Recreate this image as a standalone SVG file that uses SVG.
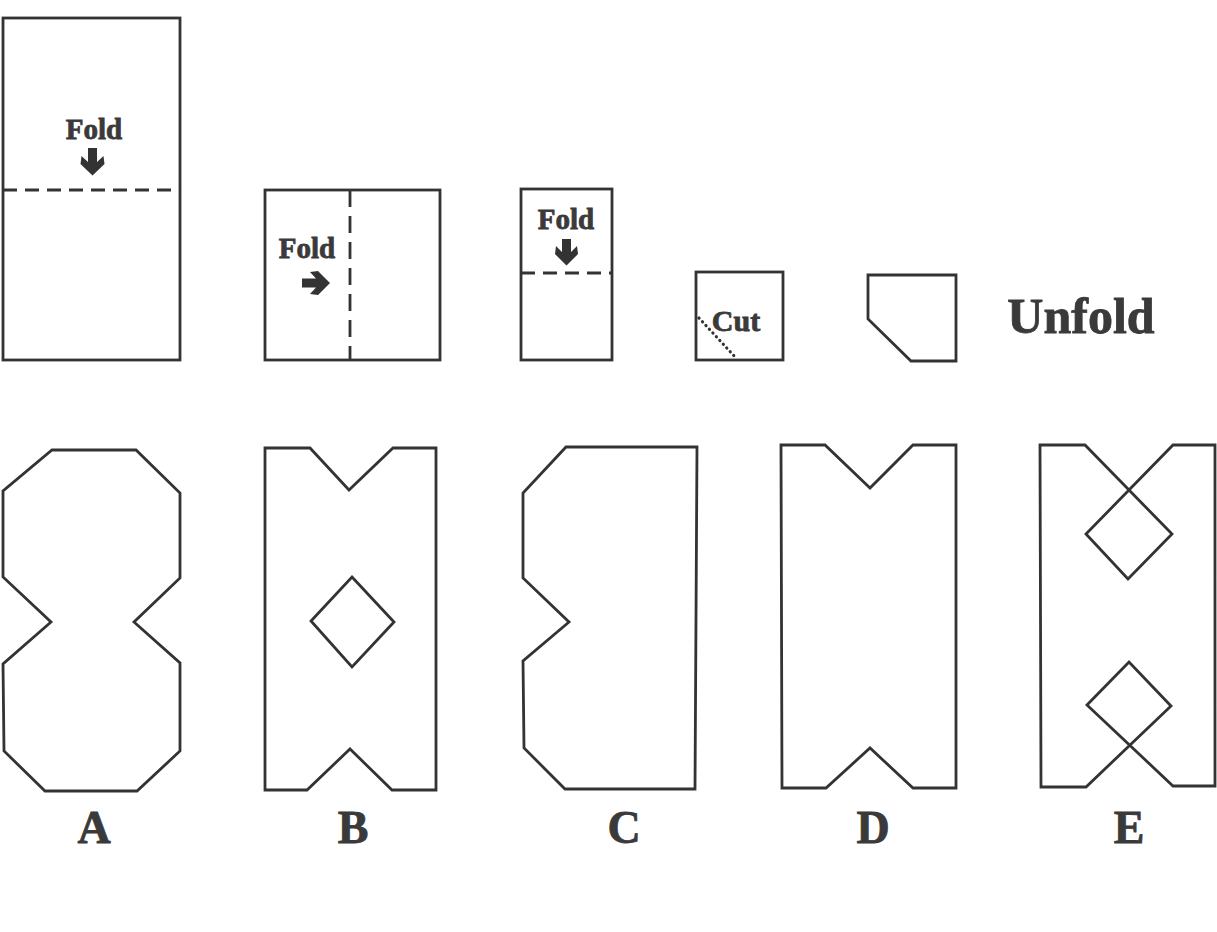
<svg xmlns="http://www.w3.org/2000/svg" width="1217" height="932" viewBox="0 0 1217 932">
<style>
.sh{fill:none;stroke:#333;stroke-width:2.8;stroke-linejoin:miter}
.dash{fill:none;stroke:#333;stroke-width:2.8;stroke-dasharray:14 8}
.dot{fill:none;stroke:#333;stroke-width:3.2;stroke-dasharray:0.1 5;stroke-linecap:round}
.t{font-family:"Liberation Serif","DejaVu Serif",serif;font-weight:bold;fill:#3a3a3a;stroke:#3a3a3a;stroke-width:0.8}
.arr{fill:#333}
</style>
<rect width="1217" height="932" fill="#fff"/>
<g id="step1">
<rect class="sh" x="3" y="18" width="177" height="342"/>
<line class="dash" x1="3" y1="190" x2="180" y2="190"/>
<text class="t" x="94" y="139" font-size="29" text-anchor="middle">Fold</text>
<path class="arr" d="M88,148 H97 V162 L103.5,156 L104.5,164 L92.5,175.5 L80.5,164 L81.5,156 L88,162 Z"/>
</g>
<g id="step2">
<rect class="sh" x="265" y="190" width="175" height="170"/>
<line class="dash" x1="350" y1="190" x2="350" y2="360" style="stroke-dasharray:17 9"/>
<text class="t" x="307" y="258" font-size="29" text-anchor="middle">Fold</text>
<path class="arr" d="M302,278.5 H316 L310,272 L318,271 L330,283 L318,295 L310,294 L316,287.5 H302 Z"/>
</g>
<g id="step3">
<rect class="sh" x="521" y="189" width="91" height="171"/>
<line class="dash" x1="521" y1="273" x2="612" y2="273"/>
<text class="t" x="566" y="229" font-size="29" text-anchor="middle">Fold</text>
<path class="arr" d="M562,239 H571 V252 L577,246 L578,254 L566.5,265.5 L555,254 L556,246 L562,252 Z"/>
</g>
<g id="step4">
<rect class="sh" x="696" y="272" width="87" height="88"/>
<line class="dot" x1="699" y1="318" x2="737" y2="359"/>
<text class="t" x="736" y="331" font-size="30" text-anchor="middle">Cut</text>
</g>
<g id="step5">
<polygon class="sh" points="868,275 956,275 956,361 911,361 868,319"/>
</g>
<g id="unfold">
<text class="t" x="1081" y="333" font-size="50" text-anchor="middle">Unfold</text>
</g>
<g id="optionA">
<polygon class="sh" points="52,450 136,450 180,493 180,578 134,622 180,663 180,751 137,791 45,791 4,751 3,664 51,622 3,577 3,491"/>
<text class="t" x="94" y="843" font-size="46" text-anchor="middle">A</text>
</g>
<g id="optionB">
<polygon class="sh" points="265,448 310,448 349,490 393,448 436,448 436,790 392,790 350,749 307,790 265,790"/>
<polygon class="sh" points="352,577 394,622 352,667 311,621"/>
<text class="t" x="353" y="843" font-size="46" text-anchor="middle">B</text>
</g>
<g id="optionC">
<polygon class="sh" points="566,447 697,447 695,789 565,789 524,748 523,661 569,622 523,578 523,493"/>
<text class="t" x="624" y="843" font-size="46" text-anchor="middle">C</text>
</g>
<g id="optionD">
<polygon class="sh" points="781,445 825,445 870,488 913,445 956,445 956,788 913,788 870,748 826,788 782,788"/>
<text class="t" x="873" y="843" font-size="46" text-anchor="middle">D</text>
</g>
<g id="optionE">
<path class="sh" d="M1040,445 L1085,445 L1172,534 L1128,579 L1086,534 L1173,445 L1215,445 L1215,786 L1173,786 L1087,705 L1129,662 L1171,706 L1086,787 L1041,787 Z"/>
<text class="t" x="1129" y="843" font-size="46" text-anchor="middle">E</text>
</g>
</svg>
